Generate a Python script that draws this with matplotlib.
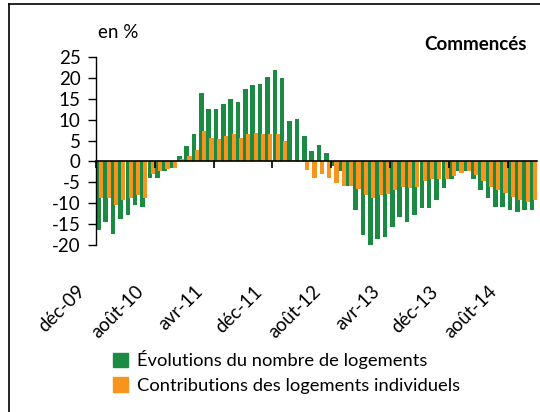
import numpy as np
import matplotlib
matplotlib.use("Agg")
import matplotlib.pyplot as plt
from matplotlib.patches import Patch
from matplotlib.lines import Line2D

plt.rcParams['font.family'] = ['Lato', 'DejaVu Sans']
plt.rcParams['axes.unicode_minus'] = False

# monthly values, dec-09 .. nov-14 (in %)
evolutions = [-16.5, -14.5, -17.3, -13.7, -12.9, -10.4, -10.8, -3.9, -3.9, -2.2,
              -1.5, 1.2, 3.7, 6.6, 16.3, 12.5, 12.5, 13.8, 15.0, 14.2,
              17.4, 18.2, 18.6, 20.3, 21.9, 19.9, 9.7, 10.1, 6.1, 2.4,
              4.0, 2.1, -1.0, -2.3, -5.9, -11.6, -17.7, -20.0, -18.5, -18.1,
              -15.6, -13.3, -14.4, -12.9, -11.2, -11.2, -9.2, -6.4, -4.3, -2.3,
              -2.3, -4.3, -6.8, -8.8, -10.8, -10.8, -11.6, -12.0, -11.6, -11.6]
contributions = [-8.7, -8.7, -10.4, -9.2, -8.7, -8.1, -8.8, -3.1, -2.3, -1.8,
                 -1.5, 0.5, 1.2, 2.8, 7.3, 5.6, 5.3, 6.1, 6.6, 5.7,
                 6.5, 6.9, 6.5, 6.5, 6.5, 4.9, 0.4, 0.0, -2.0, -3.9,
                 -3.1, -3.9, -5.1, -5.9, -5.9, -6.7, -8.0, -8.8, -8.0, -7.7,
                 -6.9, -6.1, -6.3, -6.1, -4.7, -4.3, -4.3, -4.3, -3.6, -2.8,
                 -2.3, -3.2, -4.7, -6.0, -6.8, -7.6, -8.4, -9.2, -9.6, -9.2]
tick_labels = ['déc-09', 'août-10', 'avr-11', 'déc-11', 'août-12', 'avr-13', 'déc-13', 'août-14']
tick_step = 8

green = '#1b8a43'
orange = '#f7941d'
fs = 13.5

fig = plt.figure(figsize=(5.4, 4.12), dpi=100)
ax = fig.add_axes([96/540, 1-245/412, 441/540, 188/412])

x = np.arange(len(evolutions))
ax.bar(x + 0.33, evolutions, width=0.62, color=green, zorder=1)
ax.bar(x + 0.72, contributions, width=0.56, color=orange, zorder=1.5)

ax.set_xlim(0, len(evolutions))
ax.set_ylim(-20, 25)
ax.set_yticks(np.arange(-20, 26, 5))
ax.tick_params(axis='y', length=6, width=1, pad=5, labelsize=fs)

ax.spines['top'].set_visible(False)
ax.spines['right'].set_visible(False)
ax.spines['bottom'].set_position(('data', 0))
ax.spines['bottom'].set_linewidth(1.2)
ax.spines['left'].set_linewidth(1.0)

ticks = np.arange(0, len(evolutions), tick_step)
ax.set_xticks(ticks)
ax.set_xticklabels([])
ax.tick_params(axis='x', length=5, width=1.2)
for t, lab in zip(ticks, tick_labels):
    ax.text(t - 1.0, -29.0, lab, rotation=45, ha='right', va='top',
            fontsize=fs, clip_on=False)

fig.text(98/540, 1-33/412, 'en %', fontsize=fs, va='center', ha='left')
fig.text(527/540, 1-44/412, 'Commencés', fontsize=fs, fontweight='bold',
         va='center', ha='right')

handles = [Patch(color=green), Patch(color=orange)]
fig.legend(handles, ['Évolutions du nombre de logements',
                     'Contributions des logements individuels'],
           loc='upper left', bbox_to_anchor=(113/540, 1-350/412),
           frameon=False, fontsize=13.2, handlelength=0.82, handleheight=0.82,
           handletextpad=0.5, labelspacing=0.45, borderpad=0, borderaxespad=0)

# frame lines (top and left edges)
fig.add_artist(Line2D([9/540, 9/540], [0, 1-4/412], transform=fig.transFigure,
                      color='black', lw=1.2))
fig.add_artist(Line2D([9/540, 1], [1-4/412, 1-4/412], transform=fig.transFigure,
                      color='black', lw=1.2))

fig.savefig('out.png', dpi=100)
